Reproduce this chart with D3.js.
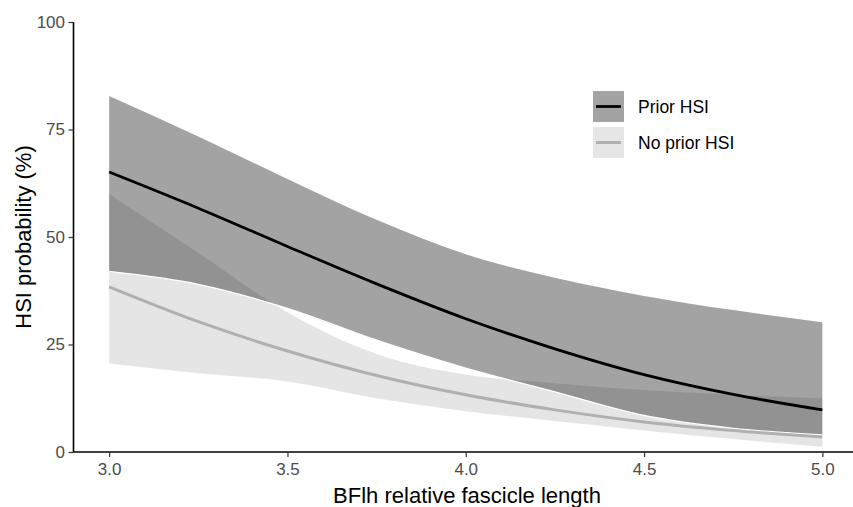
<!DOCTYPE html>
<html>
<head>
<meta charset="utf-8">
<script src="https://cdn.jsdelivr.net/npm/d3@7"></script>
<style>
  html, body { margin: 0; padding: 0; background: #fff; }
  svg { display: block; font-family: "Liberation Sans", Arial, sans-serif; }
</style>
</head>
<body>
<svg id="chart" width="853" height="507"></svg>
<script>
// ---- data ----
const xValues = [3.0, 3.25, 3.5, 3.75, 4.0, 4.25, 4.5, 4.75, 5.0];

const priorMean  = [65.1, 56.7, 47.8, 39.1, 31.0, 24.0, 18.0, 13.4, 9.8];
const priorLower = [42.0, 39.0, 33.4, 26.0, 19.5, 14.0, 8.5, 5.5, 4.0];
const priorUpper = [82.8, 73.4, 63.5, 54.0, 46.0, 40.5, 36.3, 33.0, 30.2];

const noPriorMean  = [38.4, 30.3, 23.5, 17.8, 13.3, 9.8, 7.0, 5.0, 3.5];
const noPriorLower = [20.6, 18.3, 16.4, 12.5, 9.5, 7.2, 5.0, 3.0, 1.2];
const noPriorUpper = [60.0, 46.3, 32.5, 22.8, 18.0, 16.0, 14.4, 13.3, 12.5];

const xTicks = [3.0, 3.5, 4.0, 4.5, 5.0];
const yTicks = [0, 25, 50, 75, 100];
const legendLabels = ["Prior HSI", "No prior HSI"];

// ---- layout ----
const svg = d3.select("#chart");
const x = d3.scaleLinear().domain([2.9, 5.1]).range([73.5, 858]);
const y = d3.scaleLinear().domain([0, 100]).range([452, 22]);

const rows = (lo, hi, mid) => xValues.map((v, i) => ({x: v, lo: lo[i], hi: hi[i], m: mid[i]}));
const prior = rows(priorLower, priorUpper, priorMean);
const noPrior = rows(noPriorLower, noPriorUpper, noPriorMean);

const curve = d3.curveMonotoneX;
const area = d3.area().x(d => x(d.x)).y0(d => y(d.lo)).y1(d => y(d.hi)).curve(curve);
const mean = d3.line().x(d => x(d.x)).y(d => y(d.m)).curve(curve);
const lowerEdge = d3.line().x(d => x(d.x)).y(d => y(d.lo)).curve(curve);

// ribbons
svg.append("path").datum(noPrior).attr("d", area)
  .attr("fill", "#000").attr("fill-opacity", 0.1);
svg.append("path").datum(prior).attr("d", area)
  .attr("fill", "#000").attr("fill-opacity", 0.36);
// white seam along the lower edge of the prior ribbon
svg.append("path").datum(prior).attr("d", lowerEdge)
  .attr("fill", "none").attr("stroke", "#fff").attr("stroke-width", 1.3);

// mean lines
svg.append("path").datum(noPrior).attr("d", mean)
  .attr("fill", "none").attr("stroke", "#b0b0b0").attr("stroke-width", 3);
svg.append("path").datum(prior).attr("d", mean)
  .attr("fill", "none").attr("stroke", "#000").attr("stroke-width", 2.8);

// axes
const xAxis = svg.append("g").attr("transform", "translate(0,452)")
  .call(d3.axisBottom(x).tickValues(xTicks).tickFormat(d3.format(".1f")).tickSize(5).tickPadding(6));
const yAxis = svg.append("g").attr("transform", "translate(73.5,0)")
  .call(d3.axisLeft(y).tickValues(yTicks).tickSize(5).tickPadding(3.5));
yAxis.select(".domain").attr("d", `M0,${y(100)}V${y(0)}`);
xAxis.select(".domain").attr("d", `M${x(2.9)},0H${x(5.1)}`);
[xAxis, yAxis].forEach(g => {
  g.select(".domain").attr("stroke", "#000").attr("stroke-width", 1.6);
  g.selectAll(".tick line").attr("stroke", "#333").attr("stroke-width", 1.2);
  g.selectAll(".tick text").attr("fill", "#4d4d4d").style("font-size", "17px")
    .style("font-family", "'Liberation Sans', Arial, sans-serif");
});

// axis titles
svg.append("text").attr("x", 467).attr("y", 503).attr("text-anchor", "middle")
  .attr("fill", "#000").style("font-size", "22px").text("BFlh relative fascicle length");
svg.append("text").attr("transform", "translate(31,237) rotate(-90)").attr("text-anchor", "middle")
  .attr("fill", "#000").style("font-size", "22px").text("HSI probability (%)");

// legend
const legendFills = ["#a3a3a3", "#e6e6e6"];
const legendLines = ["#000", "#b0b0b0"];
const lg = svg.append("g");
legendLabels.forEach((lab, i) => {
  const ty = 91 + i * 36;
  lg.append("rect").attr("x", 593).attr("y", ty).attr("width", 31).attr("height", 31)
    .attr("fill", legendFills[i]);
  lg.append("line").attr("x1", 596).attr("x2", 621).attr("y1", ty + 15.5).attr("y2", ty + 15.5)
    .attr("stroke", legendLines[i]).attr("stroke-width", i === 0 ? 2.8 : 3);
  lg.append("text").attr("x", 638).attr("y", ty + 22).attr("fill", "#000")
    .style("font-size", "17.5px").text(lab);
});
</script>
</body>
</html>
